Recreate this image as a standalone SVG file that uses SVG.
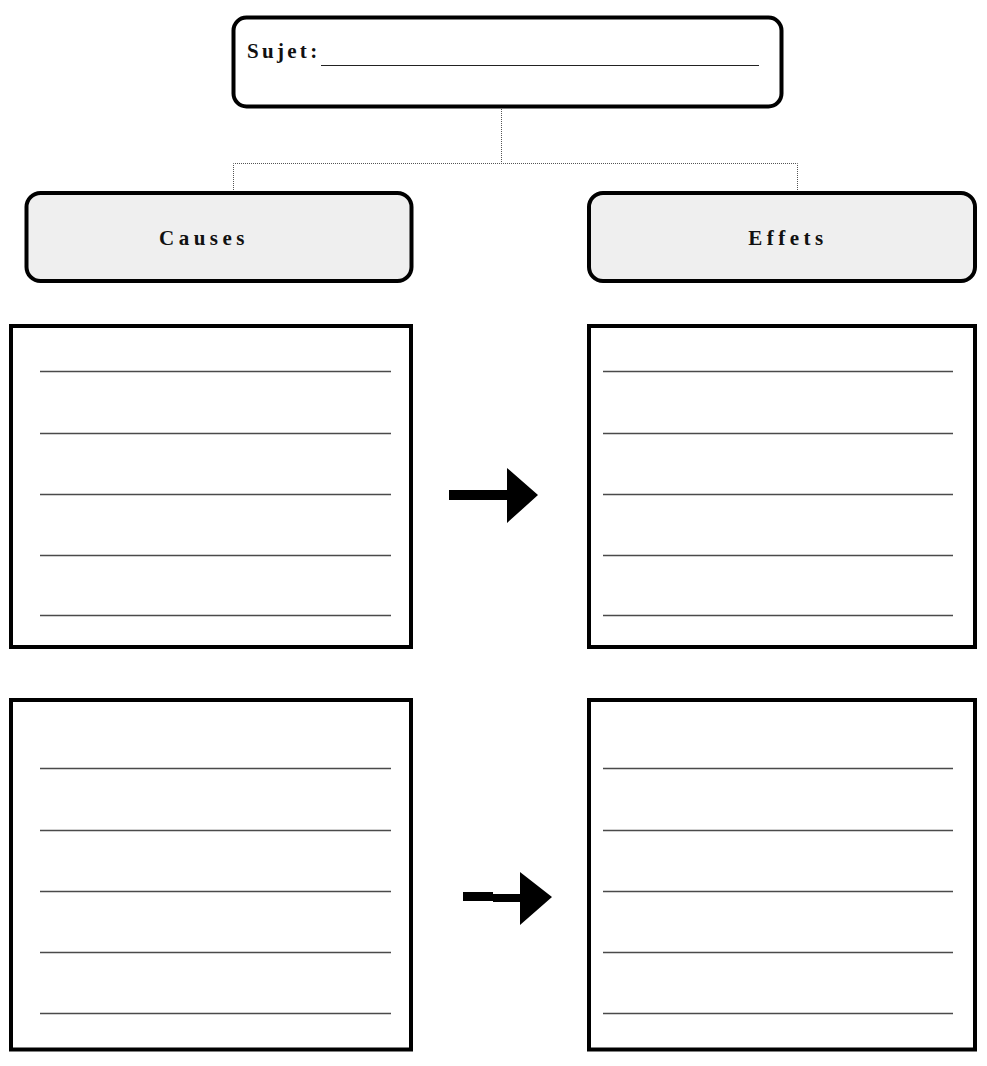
<svg xmlns="http://www.w3.org/2000/svg" width="987" height="1066" viewBox="0 0 987 1066">
  <style>
    .frame { fill: #ffffff; stroke: #000000; stroke-width: 4; }
    .head { fill: #efefef; stroke: #000000; stroke-width: 4; }
    .rule { stroke: #4a4a4a; stroke-width: 1.5; }
    .link { fill: none; stroke: #555555; stroke-width: 1; stroke-dasharray: 1 1; }
    .label { font-family: "Liberation Serif", "Times New Roman", serif; font-weight: bold; fill: #111111; }
    .arrow { fill: #000000; }
  </style>
  <rect width="987" height="1066" fill="#ffffff"/>

  <!-- dotted tree connectors and the two cause-to-effect arrows -->
  <g id="connectors">
    <path class="link" d="M501.5 107 V163.5 M233.5 192 V163.5 H797.5 V192"/>
    <path class="arrow" d="M449 490 H507 V468 L538 495 L507 523 V500 H449 Z"/>
    <path class="arrow" d="M463 892 H493 V894 H520 V872 L552 897 L520 925 V902 H493 V901 H463 Z"/>
  </g>

  <g id="sujet">
    <rect class="frame" x="233.5" y="17.5" width="548" height="89" rx="13"/>
    <text class="label" x="247" y="58" font-size="21" letter-spacing="3.3">Sujet:</text>
    <line x1="321" y1="65.5" x2="759" y2="65.5" stroke="#222222" stroke-width="1.2"/>
  </g>

  <g id="causes">
    <rect class="head" x="26.5" y="193" width="385" height="88" rx="14"/>
    <text class="label" x="204" y="245" font-size="21" letter-spacing="4.5" text-anchor="middle">Causes</text>
  </g>

  <g id="effets">
    <rect class="head" x="589" y="193" width="386" height="88" rx="14"/>
    <text class="label" x="788" y="245" font-size="21" letter-spacing="4.5" text-anchor="middle">Effets</text>
  </g>

  <g id="cause-1">
    <rect class="frame" x="11" y="326" width="400" height="321"/>
    <g class="rule">
      <line x1="40" y1="371.5" x2="391" y2="371.5"/>
      <line x1="40" y1="433.5" x2="391" y2="433.5"/>
      <line x1="40" y1="494.5" x2="391" y2="494.5"/>
      <line x1="40" y1="555.5" x2="391" y2="555.5"/>
      <line x1="40" y1="615.5" x2="391" y2="615.5"/>
    </g>
  </g>

  <g id="effet-1">
    <rect class="frame" x="589" y="326" width="386" height="321"/>
    <g class="rule">
      <line x1="603" y1="371.5" x2="953" y2="371.5"/>
      <line x1="603" y1="433.5" x2="953" y2="433.5"/>
      <line x1="603" y1="494.5" x2="953" y2="494.5"/>
      <line x1="603" y1="555.5" x2="953" y2="555.5"/>
      <line x1="603" y1="615.5" x2="953" y2="615.5"/>
    </g>
  </g>

  <g id="cause-2">
    <rect class="frame" x="11" y="700" width="400" height="349.5"/>
    <g class="rule">
      <line x1="40" y1="768.5" x2="391" y2="768.5"/>
      <line x1="40" y1="830.5" x2="391" y2="830.5"/>
      <line x1="40" y1="891.5" x2="391" y2="891.5"/>
      <line x1="40" y1="952.5" x2="391" y2="952.5"/>
      <line x1="40" y1="1013.5" x2="391" y2="1013.5"/>
    </g>
  </g>

  <g id="effet-2">
    <rect class="frame" x="589" y="700" width="386" height="349.5"/>
    <g class="rule">
      <line x1="603" y1="768.5" x2="953" y2="768.5"/>
      <line x1="603" y1="830.5" x2="953" y2="830.5"/>
      <line x1="603" y1="891.5" x2="953" y2="891.5"/>
      <line x1="603" y1="952.5" x2="953" y2="952.5"/>
      <line x1="603" y1="1013.5" x2="953" y2="1013.5"/>
    </g>
  </g>
</svg>
